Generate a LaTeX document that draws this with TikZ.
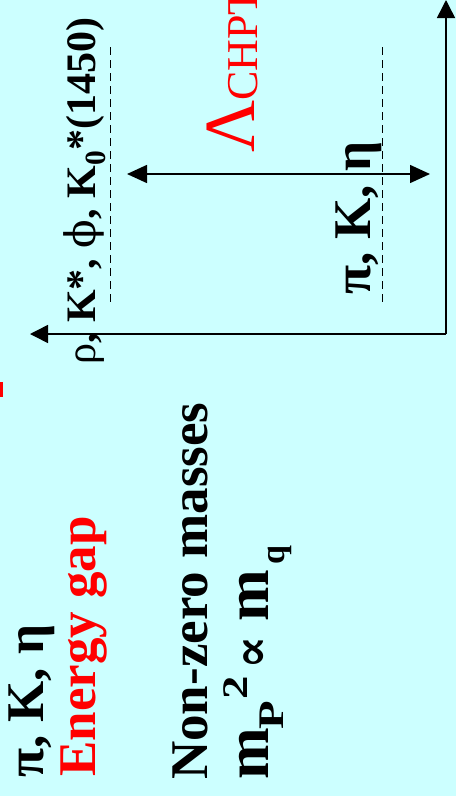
\documentclass[tikz,border=0pt]{standalone}
\usepackage{fontspec}
\setmainfont{Liberation Serif}
\newfontfamily\symfont{DejaVu Serif}
\usetikzlibrary{arrows.meta}
\definecolor{bgcyan}{RGB}{204,255,255}
\newcommand{\hugebf}{\fontsize{53}{60}\selectfont\bfseries}
\newcommand{\idx}[1]{\scalebox{1.3}[1]{\fontsize{36}{40}\selectfont #1}}

\begin{document}
\begin{tikzpicture}[x=1pt,y=-1pt]
\tikzstyle{lbl}=[rotate=90,anchor=base west,inner sep=0pt]
\tikzstyle{axis}=[line width=1.5pt,-{Triangle[length=18pt,width=18pt]}]
\tikzstyle{level}=[line width=1pt,dash pattern=on 8pt off 5pt]
\fill[bgcyan] (0,0) rectangle (456,796);
\clip (0,0) rectangle (456,796);

% left column of text
\node[lbl] (title) at (43,778) {\hugebf π, K, η};
\node[lbl,text=red] (gap) at (95,777) {\hugebf Energy gap};
\node[lbl] (nonzero) at (207,780) {\hugebf Non-zero masses};
\node[lbl] (mass) at (268,780) {\bfseries
  \makebox[50pt][l]{\fontsize{62}{70}\selectfont m}%
  \makebox[30pt][l]{\raisebox{-15pt}{\idx{P}}}%
  \makebox[30pt][l]{\raisebox{21pt}{\idx{2}}}%
  \makebox[48pt][l]{\fontsize{50}{56}\selectfont\symfont ∝}%
  \makebox[57pt][l]{\fontsize{62}{70}\selectfont m}%
  \raisebox{-16pt}{\fontsize{34}{38}\selectfont q}};
\fill[red] (0,382) rectangle (3,397);

% energy axes
\coordinate (O) at (446,334);
\coordinate (Etop) at (446,0);
\coordinate (Xend) at (30,334);
\draw[axis] (O) -- (Etop);
\draw[axis] (O) -- (Xend);

% levels
\coordinate (heavyA) at (110,47);
\coordinate (heavyB) at (110,303);
\coordinate (lightA) at (382,47);
\coordinate (lightB) at (382,303);
\draw[level] (heavyA) -- (heavyB);
\draw[level] (lightA) -- (lightB);
\node[lbl] (heavy) at (95,365) {\fontsize{42}{46}\selectfont\bfseries{\mdseries ρ}, K*, {\symfont\mdseries ϕ}, K\textsubscript{0}*(1450)};
\node[lbl] (light) at (370,295) {\hugebf π, K, η};

% gap arrow
\coordinate (gapL) at (127,174);
\coordinate (gapR) at (430,174);
\draw[line width=1.5pt,{Triangle[length=20pt,width=18pt]}-{Triangle[length=20pt,width=18pt]}] (gapL) -- (gapR);
\node[lbl,text=red] (lam) at (254,153) {\fontsize{72}{80}\selectfont Λ\raisebox{-3pt}{\fontsize{44}{50}\selectfont CHPT}};
\end{tikzpicture}
\end{document}
